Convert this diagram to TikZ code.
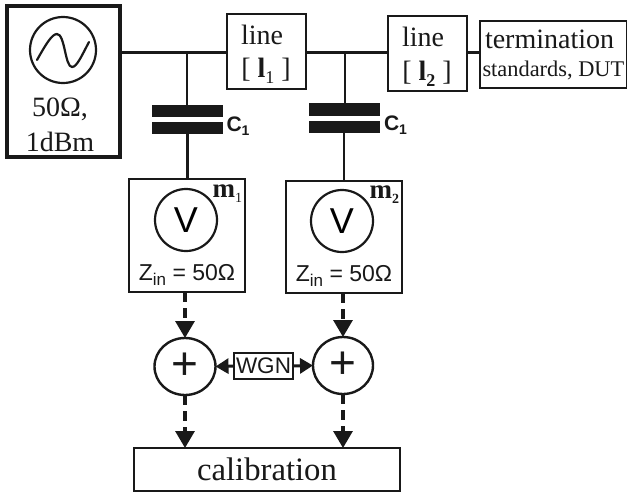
\documentclass[tikz,border=0pt]{standalone}
\usepackage{fontspec}
\setmainfont{Liberation Serif}
\setsansfont{Liberation Sans}
\usetikzlibrary{arrows.meta,shapes.geometric}
\newcommand{\fsz}[1]{\fontsize{#1}{#1}\selectfont}
\newcommand{\lowsub}[2]{\raisebox{-0.22em}{\fsz{#1}#2}}
\tikzset{
  box/.style={draw=black!90,line width=#1,fill=white,inner sep=0pt,outer sep=0pt},
  box/.default=2.2pt,
  ring/.style={draw=black!90,line width=2.2pt,circle,inner sep=0pt,outer sep=0pt},
  oval/.style={draw=black!90,line width=2.4pt,ellipse,inner sep=0pt,outer sep=0pt},
  plate/.style={fill=black!90,inner sep=0pt,outer sep=0pt,minimum width=71pt,minimum height=12.5pt},
  wire/.style={draw=black!90,line width=2.4pt},
  sig/.style={draw=black!90,line width=3.2pt,dash pattern=on 10pt off 6pt,-{Triangle[length=17pt,width=19pt]}},
  solidsig/.style={draw=black!90,line width=3pt,-{Triangle[length=13pt,width=15pt]}},
  txt/.style={inner sep=0pt,outer sep=0pt,text=black!90},
}
\begin{document}
\begin{tikzpicture}[x=1pt,y=-1pt]
\useasboundingbox (0,0) rectangle (627,491);
% boxes
\node[box=3.2pt,minimum width=113pt,minimum height=151pt] (source) at (63.5,81.5) {};
\node[box,minimum width=79pt,minimum height=75pt] (line1) at (266.5,51.5) {};
\node[box,minimum width=79pt,minimum height=75pt] (line2) at (427.5,53.5) {};
\node[box,minimum width=147pt,minimum height=67pt] (term) at (553.5,54.5) {};
\node[box=2.6pt,minimum width=116pt,minimum height=113pt] (m1) at (187,235.5) {};
\node[box=2.6pt,minimum width=116pt,minimum height=112pt] (m2) at (344,237) {};
\node[box,minimum width=266pt,minimum height=43pt] (calib) at (267,469.5) {};
\node[box,minimum width=59pt,minimum height=26pt] (wgn) at (263.5,366) {};
% rings
\node[ring,minimum size=66pt] (osc) at (63,50) {};
\node[ring,minimum size=62pt] (v1) at (186,220) {\sffamily\fsz{36}V};
\node[ring,minimum size=62pt] (v2) at (342,221) {\sffamily\fsz{36}V};
\node[oval,minimum width=61pt,minimum height=57pt] (sum1) at (185,366.5) {};
\node[oval,minimum width=60pt,minimum height=57pt] (sum2) at (343,365.5) {};
\node[txt] at (sum1.center) {\sffamily\fsz{46}+};
\node[txt] at (sum2.center) {\sffamily\fsz{46}+};
% capacitors
\node[plate] (c1a) at (187.5,111) {};
\node[plate] (c1b) at (187.5,128) {};
\node[plate] (c2a) at (344,109.5) {};
\node[plate] (c2b) at (344,127) {};
% junctions
\coordinate (j1) at (187,52.5);
\coordinate (j2) at (345,52.5);
% wires
\draw[wire] (source.east |- j1) -- (j1) -- (line1.west |- j1);
\draw[wire] (line1.east |- j2) -- (j2) -- (line2.west |- j2);
\draw[wire] (line2.east |- j2) -- (term.west |- j2);
\draw[wire] (j1) -- (c1a.north -| j1);
\draw[wire] (c1b.south) -- (c1b.south |- m1.north);
\draw[wire] (j2) -- (c2a.north -| j2);
\draw[wire] (c2b.south) -- (c2b.south |- m2.north);
% signal arrows
\draw[sig] (m1.south -| sum1) -- (sum1.north);
\draw[sig] (m2.south -| sum2) -- (sum2.north);
\draw[sig] (sum1.south) -- (sum1.south |- calib.north);
\draw[sig] (sum2.south) -- (sum2.south |- calib.north);
\draw[solidsig] (wgn.west) -- (sum1.east);
\draw[solidsig] (wgn.east) -- (sum2.west);
% sine
\draw[line width=2.2pt,draw=black!90,line cap=round] (37,60) .. controls (46,44) and (52,34) .. (57,34) .. controls (65,34) and (65,67) .. (72,67) .. controls (77,67) and (82,55) .. (89,42);
% texts
\node[txt] (t50) at (60,109) {\fsz{28}50Ω,};
\node[txt] (t1d) at (60,142) {\fsz{28}1dBm};
\node[txt] (tl1) at (262,35) {\fsz{28}line};
\node[txt] (tb1) at (266,71) {\fsz{28}[ \textbf{l}\lowsub{18}{1} ]};
\node[txt] (tl2) at (423,37) {\fsz{28}line};
\node[txt] (tb2) at (427,74) {\fsz{28}[ \textbf{l}\lowsub{18}{\textbf{2}} ]};
\node[txt,anchor=base west] (tterm) at (485,48) {\fsz{28}termination};
\node[txt,anchor=base west] (tstd) at (482.5,76) {\fsz{22.4}standards, DUT};
\node[txt,anchor=base west] (tc1) at (226.5,131) {\sffamily\bfseries\fsz{21}C\lowsub{14}{1}};
\node[txt,anchor=base west] (tc2) at (384,130) {\sffamily\bfseries\fsz{21}C\lowsub{14}{1}};
\node[txt,anchor=base east] (tm1) at (242,197) {\bfseries\fsz{27}m\lowsub{14}{\mdseries 1}};
\node[txt,anchor=base east] (tm2) at (399,198) {\bfseries\fsz{27}m\lowsub{14}{2}};
\node[txt] (z1) at (187,275) {\sffamily\fsz{23}Z\lowsub{17}{in} = 50Ω};
\node[txt] (z2) at (344,276) {\sffamily\fsz{23}Z\lowsub{17}{in} = 50Ω};
\node[txt] at (wgn.center) {\sffamily\fsz{22.5}WGN};
\node[txt] at (calib.center) {\fsz{32.7}calibration};
\end{tikzpicture}
\end{document}
